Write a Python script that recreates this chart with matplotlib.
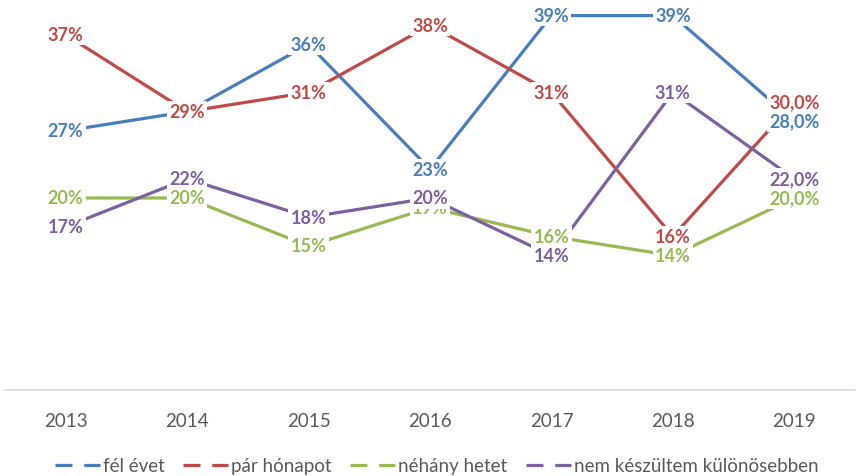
import matplotlib
matplotlib.use("Agg")
import matplotlib.pyplot as plt

# adatok
years = ['2013', '2014', '2015', '2016', '2017', '2018', '2019']
fel_evet = [27, 29, 36, 23, 39, 39, 28]
par_honapot = [37, 29, 31, 38, 31, 16, 30]
nehany_hetet = [20, 20, 15, 19, 16, 14, 20]
nem_keszultem = [17, 22, 18, 20, 14, 31, 22]

series = [
    ('fél évet', fel_evet, '#4A7EBB'),
    ('pár hónapot', par_honapot, '#BE4B48'),
    ('néhány hetet', nehany_hetet, '#98B954'),
    ('nem készültem különösebben', nem_keszultem, '#7D60A0'),
]

plt.rcParams['font.family'] = ['Lato', 'DejaVu Sans']

fig = plt.figure(figsize=(8.56, 4.77), dpi=100)
ax = fig.add_axes([5 / 856, 1 - 391 / 477, 850 / 856, 384 / 477])

x = list(range(len(years)))
for name, vals, col in series:
    ax.plot(x, vals, color=col, lw=2.3, label=name, solid_capstyle='butt', zorder=2)

# adatcímkék (a vonalak fölött)
for i, (name, vals, col) in enumerate(series):
    for j, v in enumerate(vals):
        txt = f'{v:.1f}%'.replace('.', ',') if j == len(vals) - 1 else f'{v}%'
        ax.text(j, v, txt, color=col, fontsize=13, fontweight='bold',
                ha='center', va='center', zorder=3 + i,
                bbox=dict(boxstyle='square,pad=0.12', fc='white', ec='none'))

ax.set_xlim(-0.5, len(years) - 0.5)
ax.set_ylim(0, 40)
ax.set_xticks(x)
ax.set_xticklabels(years, fontsize=13.5, color='#595959')
ax.set_yticks([])
ax.tick_params(axis='x', length=0, pad=16)
for s in ['left', 'top', 'right']:
    ax.spines[s].set_visible(False)
ax.spines['bottom'].set_color('#D9D9D9')
ax.spines['bottom'].set_linewidth(1.2)

handles = [plt.Line2D([0], [0], color=c, lw=2.3, linestyle=(0, (5.3, 3.7))) for _, _, c in series]
fig.legend(handles, [s[0] for s in series], loc='center', bbox_to_anchor=(0.51, 1 - 467 / 477),
           ncol=4, frameon=False, fontsize=13.5, handlelength=2.4, handletextpad=0.15,
           columnspacing=1.0, labelcolor='#595959', borderpad=0, borderaxespad=0)

plt.savefig('out.png', dpi=100)
